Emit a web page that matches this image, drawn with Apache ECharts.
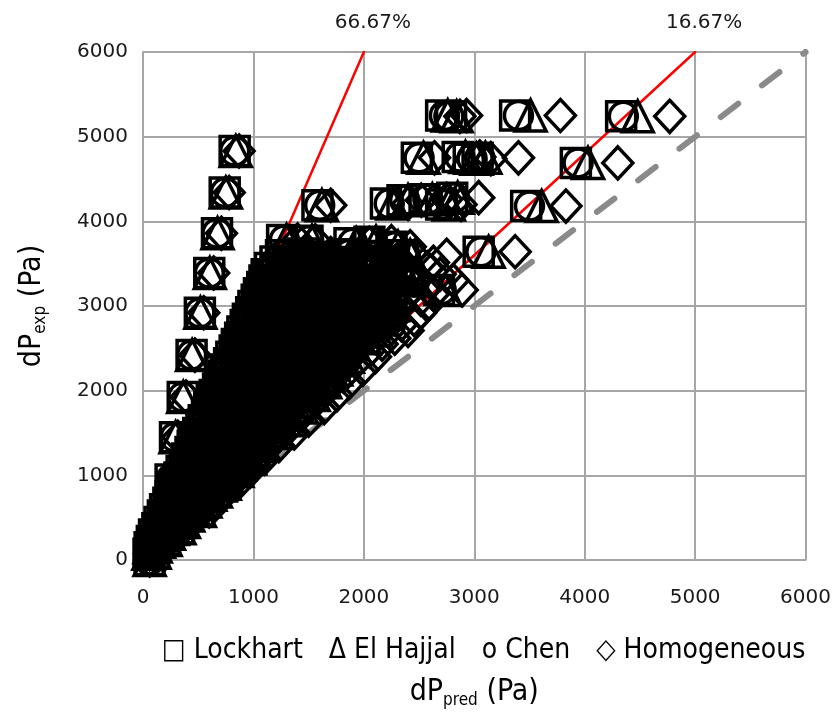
<!DOCTYPE html>
<html><head><meta charset="utf-8">
<script src="https://cdn.jsdelivr.net/npm/echarts@6/dist/echarts.min.js"></script>
<style>html,body{margin:0;padding:0;background:#fff}#chart{width:834px;height:723px}</style>
</head><body><div id="chart"></div>
<script>
const seriesNames = ['Lockhart', 'El Hajjal', 'Chen', 'Homogeneous'];
const legendLabels = ['□ Lockhart', 'Δ El Hajjal', 'o Chen', '◇ Homogeneous'];
const bandLabels = ['66.67%', '16.67%'];
const band66 = [[0, 0], [2000, 6000]];
const band16 = [[0, 0], [5000, 6000]];
const parityLine = [[0, 0], [6000, 6000]];

// experimental pressure drop (Pa), one per measurement
const expDP = [
  5250, 5240, 5250, 5240, 4750, 4760, 4740, 4750, 4690, 4830, 4340, 4190, 4210, 4250, 4260, 4200, 4280, 4180,
  3860, 3780, 3770, 3740, 3760, 3700, 3640, 3390, 3300, 3350, 3190, 2920, 2420, 1925, 1450, 950, 0,
  3600, 3620, 3580, 3610, 3590, 3600,
  3450, 3430, 3460, 3440, 3470, 3450,
  3300, 3290, 3310, 3300, 3280, 3310, 3300,
  3150, 3160, 3140, 3150, 3170, 3150, 3140,
  3000, 2990, 3010, 3000, 2980, 3000, 3010,
  2850, 2860, 2840, 2850, 2870, 2850, 2840,
  2700, 2690, 2710, 2700, 2680, 2700, 2710,
  2550, 2560, 2540, 2550, 2570, 2550,
  2400, 2390, 2410, 2400, 2380, 2400,
  2250, 2260, 2240, 2250, 2270, 2250,
  2100, 2090, 2110, 2100, 2080, 2100,
  1950, 1960, 1940, 1950, 1970, 1950,
  1800, 1790, 1810, 1800, 1780, 1800,
  1650, 1660, 1640, 1650, 1670, 1650,
  1500, 1490, 1510, 1500, 1480, 1500,
  1350, 1360, 1340, 1350, 1370, 1350,
  1200, 1190, 1210, 1200, 1180, 1200,
  1050, 1060, 1040, 1050, 1070, 1050,
  900, 890, 910, 900, 880, 900,
  750, 760, 740, 750, 770,
  600, 590, 610, 600, 580,
  450, 460, 440, 450,
  300, 290, 310,
  150, 160,
  3525, 3510, 3540, 3520, 3530, 3515,
  3375, 3385, 3365, 3380, 3370, 3390, 3375,
  3225, 3215, 3235, 3225, 3210, 3230, 3220,
  3075, 3085, 3065, 3075, 3090, 3070, 3080,
  2925, 2915, 2935, 2925, 2910, 2930, 2920,
  2775, 2785, 2765, 2775, 2790, 2770, 2780,
  2625, 2615, 2635, 2625, 2610, 2630, 2620,
  2475, 2485, 2465, 2475, 2490, 2470,
  2325, 2315, 2335, 2325, 2310, 2330,
  2175, 2185, 2165, 2175, 2190, 2170,
  2025, 2015, 2035, 2025, 2010, 2030,
  1875, 1885, 1865, 1875, 1890, 1870,
  1725, 1715, 1735, 1725, 1710, 1730,
  1575, 1585, 1565, 1575, 1590, 1570,
  1425, 1415, 1435, 1425, 1410, 1430,
  1275, 1285, 1265, 1275, 1290, 1270,
  1125, 1115, 1135, 1125, 1110, 1130,
  975, 985, 965, 975, 990,
  825, 815, 835, 825, 810,
  675, 685, 665, 675, 690,
  525, 515, 535, 525,
  375, 385, 365, 375,
  225, 215, 235,
  75, 85
];
const predLockhart = [
  2700, 2790, 3370, 4330, 2480, 2850, 2950, 3030, 3920, 830, 740, 1580, 2200, 2350, 2550, 2700, 2800, 3470,
  670, 1260, 1490, 1870, 2050, 2250, 3040, 600, 1150, 1330, 2680, 515, 440, 360, 290, 250, 60,
  1250, 1450, 1650, 1850, 2100, 2350,
  1150, 1350, 1550, 1750, 1950, 2200,
  1100, 1300, 1500, 1700, 1900, 2100, 2400,
  1050, 1250, 1450, 1650, 1850, 2050, 2250,
  1000, 1200, 1400, 1600, 1800, 2000, 2200,
  950, 1150, 1350, 1550, 1750, 1950, 2100,
  900, 1100, 1300, 1500, 1700, 1900, 2050,
  850, 1050, 1250, 1450, 1650, 1850,
  800, 1000, 1200, 1400, 1600, 1800,
  750, 950, 1150, 1350, 1550, 1700,
  700, 900, 1100, 1300, 1450, 1600,
  650, 850, 1050, 1200, 1350, 1500,
  600, 800, 950, 1100, 1250, 1400,
  550, 720, 880, 1020, 1150, 1280,
  500, 650, 800, 940, 1060, 1170,
  450, 590, 720, 850, 960, 1050,
  400, 530, 650, 760, 860, 940,
  350, 470, 580, 680, 770, 830,
  300, 410, 510, 600, 680, 720,
  250, 350, 440, 520, 590,
  200, 290, 370, 440, 500,
  150, 230, 300, 360,
  100, 170, 230,
  60, 110,
  1200, 1400, 1600, 1800, 2000, 2250,
  1120, 1250, 1450, 1650, 1850, 2050, 2300,
  1080, 1200, 1400, 1600, 1800, 2000, 2200,
  1030, 1150, 1350, 1550, 1750, 1950, 2150,
  980, 1100, 1300, 1500, 1700, 1900, 2150,
  930, 1050, 1250, 1450, 1650, 1850, 2000,
  880, 1000, 1200, 1400, 1600, 1800, 1950,
  830, 950, 1150, 1350, 1550, 1750,
  780, 900, 1100, 1300, 1500, 1650,
  730, 850, 1000, 1200, 1400, 1550,
  680, 800, 950, 1150, 1300, 1420,
  630, 750, 900, 1050, 1200, 1320,
  580, 700, 850, 1000, 1120, 1220,
  530, 650, 780, 900, 1020, 1120,
  480, 600, 700, 820, 920, 1000,
  430, 550, 650, 750, 850, 910,
  380, 500, 600, 700, 780, 850,
  330, 440, 540, 630, 710,
  280, 380, 470, 560, 640,
  230, 320, 400, 480, 550,
  180, 260, 330, 400,
  130, 190, 260, 320,
  80, 140, 200,
  50, 100
];
const predElHajjal = [
  2760, 2840, 3510, 4480, 2540, 2920, 3020, 3100, 4030, 840, 750, 1620, 2260, 2400, 2620, 2770, 2850, 3610,
  675, 1300, 1530, 1930, 2110, 2310, 3130, 605, 1180, 1370, 2740, 520, 445, 365, 295, 255, 60,
  1290, 1495, 1700, 1905, 2165, 2420,
  1185, 1390, 1595, 1800, 2010, 2265,
  1135, 1340, 1545, 1750, 1955, 2165, 2470,
  1080, 1290, 1495, 1700, 1905, 2110, 2320,
  1030, 1235, 1440, 1650, 1855, 2060, 2265,
  980, 1185, 1390, 1595, 1800, 2010, 2165,
  925, 1135, 1340, 1545, 1750, 1955, 2110,
  875, 1080, 1290, 1495, 1700, 1905,
  825, 1030, 1235, 1440, 1650, 1855,
  775, 980, 1185, 1390, 1595, 1750,
  720, 925, 1135, 1340, 1495, 1650,
  670, 875, 1080, 1235, 1390, 1545,
  620, 825, 980, 1135, 1290, 1440,
  565, 740, 905, 1050, 1185, 1320,
  515, 670, 825, 970, 1090, 1205,
  465, 610, 740, 875, 990, 1080,
  410, 545, 670, 785, 885, 970,
  360, 485, 600, 700, 795, 855,
  310, 420, 525, 620, 700, 740,
  260, 360, 455, 535, 610,
  205, 300, 380, 455, 515,
  155, 235, 310, 370,
  105, 175, 235,
  60, 115,
  1235, 1440, 1650, 1855, 2060, 2320,
  1155, 1290, 1495, 1700, 1905, 2110, 2370,
  1110, 1235, 1440, 1650, 1855, 2060, 2265,
  1060, 1185, 1390, 1595, 1800, 2010, 2215,
  1010, 1135, 1340, 1545, 1750, 1955, 2215,
  960, 1080, 1290, 1495, 1700, 1905, 2060,
  905, 1030, 1235, 1440, 1650, 1855, 2010,
  855, 980, 1185, 1390, 1595, 1800,
  805, 925, 1135, 1340, 1545, 1700,
  750, 875, 1030, 1235, 1440, 1595,
  700, 825, 980, 1185, 1340, 1465,
  650, 775, 925, 1080, 1235, 1360,
  595, 720, 875, 1030, 1155, 1255,
  545, 670, 805, 925, 1050, 1155,
  495, 620, 720, 845, 950, 1030,
  445, 565, 670, 775, 875, 935,
  390, 515, 620, 720, 805, 875,
  340, 455, 555, 650, 730,
  290, 390, 485, 575, 660,
  235, 330, 410, 495, 565,
  185, 270, 340, 410,
  135, 195, 270, 330,
  80, 145, 205,
  50, 105
];
const predChen = [
  2730, 2770, 3400, 4350, 2500, 2870, 2980, 3050, 3940, 830, 745, 1600, 2230, 2370, 2580, 2720, 2820, 3500,
  670, 1280, 1500, 1900, 2080, 2280, 3060, 600, 1160, 1350, 2700, 515, 440, 360, 290, 250, 60,
  1265, 1465, 1670, 1870, 2120, 2375,
  1160, 1365, 1565, 1770, 1970, 2220,
  1110, 1315, 1515, 1715, 1920, 2120, 2425,
  1060, 1265, 1465, 1665, 1870, 2070, 2275,
  1010, 1210, 1415, 1615, 1820, 2020, 2220,
  960, 1160, 1365, 1565, 1770, 1970, 2120,
  910, 1110, 1315, 1515, 1715, 1920, 2070,
  860, 1060, 1265, 1465, 1665, 1870,
  810, 1010, 1210, 1415, 1615, 1820,
  760, 960, 1160, 1365, 1565, 1715,
  705, 910, 1110, 1315, 1465, 1615,
  655, 860, 1060, 1210, 1365, 1515,
  605, 810, 960, 1110, 1265, 1415,
  555, 725, 890, 1030, 1160, 1295,
  505, 655, 810, 950, 1070, 1180,
  455, 595, 725, 860, 970, 1060,
  405, 535, 655, 770, 870, 950,
  355, 475, 585, 685, 780, 840,
  305, 415, 515, 605, 685, 725,
  255, 355, 445, 525, 595,
  200, 295, 375, 445, 505,
  150, 230, 305, 365,
  100, 170, 230,
  60, 110,
  1210, 1415, 1615, 1820, 2020, 2275,
  1130, 1265, 1465, 1665, 1870, 2070, 2325,
  1090, 1210, 1415, 1615, 1820, 2020, 2220,
  1040, 1160, 1365, 1565, 1770, 1970, 2170,
  990, 1110, 1315, 1515, 1715, 1920, 2170,
  940, 1060, 1265, 1465, 1665, 1870, 2020,
  890, 1010, 1210, 1415, 1615, 1820, 1970,
  840, 960, 1160, 1365, 1565, 1770,
  790, 910, 1110, 1315, 1515, 1665,
  735, 860, 1010, 1210, 1415, 1565,
  685, 810, 960, 1160, 1315, 1435,
  635, 760, 910, 1060, 1210, 1335,
  585, 705, 860, 1010, 1130, 1230,
  535, 655, 790, 910, 1030, 1130,
  485, 605, 705, 830, 930, 1010,
  435, 555, 655, 760, 860, 920,
  385, 505, 605, 705, 790, 860,
  335, 445, 545, 635, 715,
  285, 385, 475, 565, 645,
  230, 325, 405, 485, 555,
  180, 265, 335, 405,
  130, 190, 265, 325,
  80, 140, 200,
  50, 100
];
const predHomogeneous = [
  2930, 2870, 3780, 4770, 2640, 3050, 3150, 3400, 4300, 870, 780, 1700, 2400, 2520, 2750, 2880, 3040, 3830,
  710, 1400, 1560, 2050, 2250, 2420, 3370, 640, 1280, 1450, 2890, 550, 470, 390, 315, 270, 60,
  1460, 1700, 1930, 2165, 2460, 2750,
  1345, 1580, 1815, 2050, 2280, 2575,
  1285, 1520, 1755, 1990, 2225, 2455, 2810,
  1230, 1460, 1695, 1930, 2165, 2400, 2630,
  1170, 1405, 1640, 1870, 2105, 2340, 2575,
  1110, 1345, 1580, 1815, 2050, 2280, 2455,
  1055, 1285, 1520, 1755, 1990, 2225, 2400,
  995, 1230, 1460, 1695, 1930, 2165,
  935, 1170, 1405, 1640, 1870, 2105,
  880, 1110, 1345, 1580, 1815, 1990,
  820, 1055, 1285, 1520, 1695, 1870,
  760, 995, 1230, 1405, 1580, 1755,
  700, 935, 1110, 1285, 1460, 1640,
  645, 840, 1030, 1195, 1345, 1500,
  585, 760, 935, 1100, 1240, 1370,
  525, 690, 840, 995, 1125, 1230,
  470, 620, 760, 890, 1005, 1100,
  410, 550, 680, 795, 900, 970,
  350, 480, 595, 700, 795, 860,
  290, 410, 515, 610, 720,
  235, 340, 435, 515, 600,
  175, 270, 350, 440,
  115, 200, 270,
  70, 130,
  1405, 1640, 1870, 2105, 2340, 2630,
  1310, 1460, 1695, 1930, 2165, 2400, 2690,
  1265, 1405, 1640, 1870, 2105, 2340, 2575,
  1205, 1345, 1580, 1815, 2050, 2280, 2515,
  1145, 1285, 1520, 1755, 1990, 2225, 2515,
  1090, 1230, 1460, 1695, 1930, 2165, 2340,
  1030, 1170, 1405, 1640, 1870, 2105, 2280,
  970, 1110, 1345, 1580, 1815, 2050,
  915, 1055, 1285, 1520, 1755, 1930,
  855, 995, 1170, 1405, 1640, 1815,
  795, 935, 1110, 1345, 1520, 1680,
  735, 880, 1055, 1230, 1405, 1560,
  680, 820, 995, 1170, 1310, 1450,
  620, 760, 915, 1055, 1195, 1330,
  560, 700, 820, 960, 1075, 1190,
  505, 645, 760, 880, 995, 1090,
  445, 585, 700, 820, 915, 1010,
  385, 515, 630, 740, 860,
  330, 445, 550, 655, 760,
  270, 375, 470, 560, 650,
  210, 305, 385, 500,
  150, 220, 305, 370,
  95, 165, 235,
  60, 115
];

const predictions = [predLockhart, predElHajjal, predChen, predHomogeneous];
const symbols = ['rect', 'triangle', 'circle', 'diamond'];
const symbolSizes = [29, [31, 31], 28, [30, 32]];

const tickFont = 'DejaVu Sans';
const titleFont = "'Liberation Sans Narrow', 'DejaVu Sans Condensed', 'Liberation Sans', sans-serif";

const chart = echarts.init(document.getElementById('chart'), null, {renderer: 'canvas'});

const scatterSeries = seriesNames.map((name, k) => ({
  name: name,
  type: 'scatter',
  symbol: symbols[k],
  symbolSize: symbolSizes[k],
  z: 3,
  data: expDP.map((y, i) => [predictions[k][i], y]),
  itemStyle: {color: 'rgba(0,0,0,0)', borderColor: '#000', borderWidth: 3.5, opacity: 1},
  emphasis: {disabled: true}
}));

const refLine = (data, color, width, type, label) => ({
  type: 'line',
  data: data,
  symbol: 'none',
  silent: true,
  z: 1,
  lineStyle: {color: color, width: width, type: type, cap: 'round'},
  markPoint: label ? {
    symbol: 'circle',
    symbolSize: 0,
    silent: true,
    data: [{coord: data[data.length - 1], value: label}],
    label: {
      show: true, position: 'top', distance: 19, offset: [9, 0],
      formatter: label, color: '#1a1a1a', fontSize: 20, fontFamily: tickFont
    }
  } : undefined
});

const nameRich = {
  m: {fontSize: 30, fontFamily: titleFont, color: '#000', lineHeight: 34, verticalAlign: 'middle'},
  s: {fontSize: 17, fontFamily: titleFont, color: '#000', lineHeight: 17, verticalAlign: 'bottom'}
};

const option = {
  animation: false,
  backgroundColor: '#fff',
  grid: {left: 143, right: 26, top: 52, bottom: 163, containLabel: false},
  legend: {
    data: seriesNames,
    selectedMode: false,
    left: 152,
    top: 632,
    icon: 'none',
    itemWidth: 0,
    itemHeight: 0,
    itemGap: 21,
    formatter: name => legendLabels[seriesNames.indexOf(name)],
    textStyle: {fontSize: 28, color: '#000', fontFamily: titleFont}
  },
  xAxis: {
    type: 'value', min: 0, max: 6000, interval: 1000,
    name: '{m|dP}{s|pred}{m| (Pa)}',
    nameLocation: 'middle', nameGap: 115,
    nameTextStyle: {rich: nameRich},
    axisLine: {show: true, lineStyle: {color: '#a6a6a6', width: 2}},
    axisTick: {show: false},
    axisLabel: {fontSize: 20, fontFamily: tickFont, color: '#1a1a1a', margin: 28, formatter: v => String(v)},
    splitLine: {show: true, lineStyle: {color: '#a6a6a6', width: 2}}
  },
  yAxis: {
    type: 'value', min: 0, max: 6000, interval: 1000,
    name: '{m|dP}{s|exp}{m| (Pa)}',
    nameLocation: 'middle', nameGap: 94, nameRotate: 90,
    nameTextStyle: {rich: nameRich},
    axisLine: {show: true, lineStyle: {color: '#a6a6a6', width: 2}},
    axisTick: {show: false},
    axisLabel: {fontSize: 20, fontFamily: tickFont, color: '#1a1a1a', margin: 15, formatter: v => String(v)},
    splitLine: {show: true, lineStyle: {color: '#a6a6a6', width: 2}}
  },
  series: [
    refLine(parityLine, '#8a8a8a', 6, [22, 30], null),
    refLine(band66, '#ff0000', 2.5, 'solid', bandLabels[0]),
    refLine(band16, '#ff0000', 2.5, 'solid', bandLabels[1])
  ].concat(scatterSeries)
};
chart.setOption(option);
</script>
</body></html>
